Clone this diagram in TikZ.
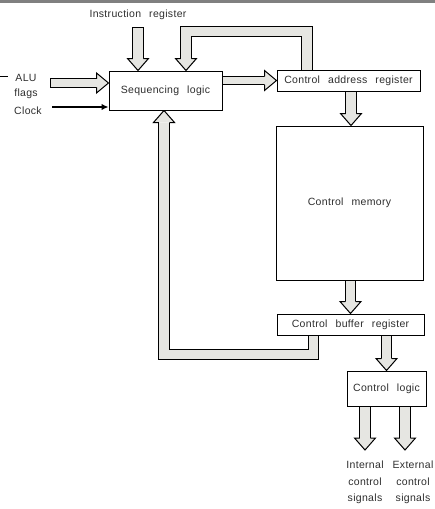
\documentclass[tikz,border=0pt]{standalone}
\usepackage{fontspec}
\setmainfont[LetterSpace=3,WordSpace=2.5]{Liberation Sans}
\usetikzlibrary{calc,arrows.meta,backgrounds}
\definecolor{fatfill}{HTML}{E6E6E2}
\definecolor{txt}{HTML}{2E2E2E}
\newcommand\fatheadD[2]{%
  \fill[fatfill] #1 -- ++(-10.5,-12) -- ++(21,0) -- cycle;
  \draw[headline] #1 ++(-#2,-12) -- ++(#2-10.5,0) -- #1 -- ++(10.5,-12) -- ++(#2-10.5,0);}
\newcommand\fatheadU[2]{%
  \fill[fatfill] #1 -- ++(-10.5,12) -- ++(21,0) -- cycle;
  \draw[headline] #1 ++(-#2,12) -- ++(#2-10.5,0) -- #1 -- ++(10.5,12) -- ++(#2-10.5,0);}
\newcommand\fatheadR[2]{%
  \fill[fatfill] #1 -- ++(-12,-10) -- ++(0,20) -- cycle;
  \draw[headline] #1 ++(-12,-#2) -- ++(0,#2-10) -- #1 -- ++(-12,10) -- ++(0,#2-10);}
\begin{document}
\begin{tikzpicture}[x=1pt,y=-1pt,
  box/.style={draw=black, line width=1pt, fill=white, inner sep=0pt, text=txt,
    font=\fontsize{10.5}{12}\selectfont},
  lbl/.style={inner sep=0pt, text=txt, font=\fontsize{10.5}{16.5}\selectfont, align=center},
  fatV/.style={draw=black, line width=1pt, double=fatfill, double distance=9.5pt, line join=miter},
  fatH/.style={draw=black, line width=1pt, double=fatfill, double distance=7.5pt, line join=miter},
  headline/.style={draw=black, line width=1pt, line join=miter},
  thinarrow/.style={draw=black, line width=1.3pt, -{Latex[length=7pt,width=6.5pt]}}]
\useasboundingbox (0,0) rectangle (435,509);
\clip (0,0) rectangle (435,509);
\fill[black!50] (0,0) rectangle (435,2.5);
\draw[line width=1pt] (0,76) -- (8,76);

% boxes
\node[box, minimum width=113, minimum height=39] (seq) at (165.5,90.5) {Sequencing logic};
\node[box, minimum width=143, minimum height=21] (car) at (348.5,80.5) {Control address register};
\node[box, minimum width=147, minimum height=154] (cm) at (349.5,203) {Control memory};
\node[box, minimum width=147, minimum height=21] (cbr) at (350.5,324.5) {Control buffer register};
\node[box, minimum width=79, minimum height=35] (cl) at (386.5,388.5) {Control logic};

% labels
\node[lbl] (ir) at (138,15) {Instruction register};
\node[lbl] (alu) at (26,78) {ALU};
\node[lbl] (flags) at (26,94) {flags};
\node[lbl] (clock) at (28,111) {Clock};
\node[lbl] (int) at (365,482.5) {Internal\\control\\signals};
\node[lbl] (ext) at (413,482.5) {External\\control\\signals};

\coordinate (irs) at (138,27);
\coordinate (alus) at (50,83);
\coordinate (clks) at (52,107);
\coordinate (fbA) at ([xshift=-41.5pt]car.north);
\coordinate (fbB) at ([xshift=20.5pt]seq.north);
\coordinate (fbC) at ([xshift=-37pt]cbr.south);
\coordinate (fbD) at ([xshift=-1.5pt]seq.south);
\coordinate (a5) at ([xshift=2.5pt]car.south);
\coordinate (a6) at ([xshift=1pt]cm.south);
\coordinate (o1) at ([xshift=-21.5pt]cl.south);
\coordinate (o2) at ([xshift=18.5pt]cl.south);
\coordinate (t1) at (365,450);
\coordinate (t2) at (405,450);

\begin{scope}[on background layer]
  % instruction register
  \draw[fatV] (irs) -- ($(irs |- seq.north)+(0,-12)$);
  \draw[headline] (irs) +(-5.75,0) -- +(5.75,0);
  \fatheadD{(irs |- seq.north)}{5.25}
  % feedback from control address register
  \draw[fatV] (fbA) -- (fbA |- 0,31.5) -- (fbB |- 0,31.5) -- ($(fbB)+(0,-12)$);
  \fatheadD{(fbB)}{5.25}
  % ALU flags
  \draw[fatH] (alus) -- ($(alus -| seq.west)+(-12,0)$);
  \draw[headline] (alus) +(0,-4.75) -- +(0,4.75);
  \fatheadR{(alus -| seq.west)}{4.25}
  % sequencing logic -> CAR
  \draw[fatH] (car.west -| seq.east) -- ($(car.west)+(-12,0)$);
  \fatheadR{(car.west)}{4.25}
  % CAR -> control memory
  \draw[fatV] (a5) -- ($(a5 |- cm.north)+(0,-12)$);
  \fatheadD{(a5 |- cm.north)}{5.25}
  % control memory -> CBR
  \draw[fatV] (a6) -- ($(a6 |- cbr.north)+(0,-12)$);
  \fatheadD{(a6 |- cbr.north)}{5.25}
  % CBR -> control logic
  \draw[fatV] (cl.north |- cbr.south) -- ($(cl.north)+(0,-12)$);
  \fatheadD{(cl.north)}{5.25}
  % feedback from CBR to sequencing logic
  \draw[fatV] (fbC) -- (fbC |- 0,354.5) -- (fbD |- 0,354.5) -- ($(fbD)+(0,12)$);
  \fatheadU{(fbD)}{5.25}
  % outputs
  \draw[fatV] (o1) -- ($(t1)+(0,-12)$);
  \fatheadD{(t1)}{5.25}
  \draw[fatV] (o2) -- ($(t2)+(0,-12)$);
  \fatheadD{(t2)}{5.25}
\end{scope}
\draw[thinarrow] (clks) -- (clks -| seq.west);
\end{tikzpicture}
\end{document}
